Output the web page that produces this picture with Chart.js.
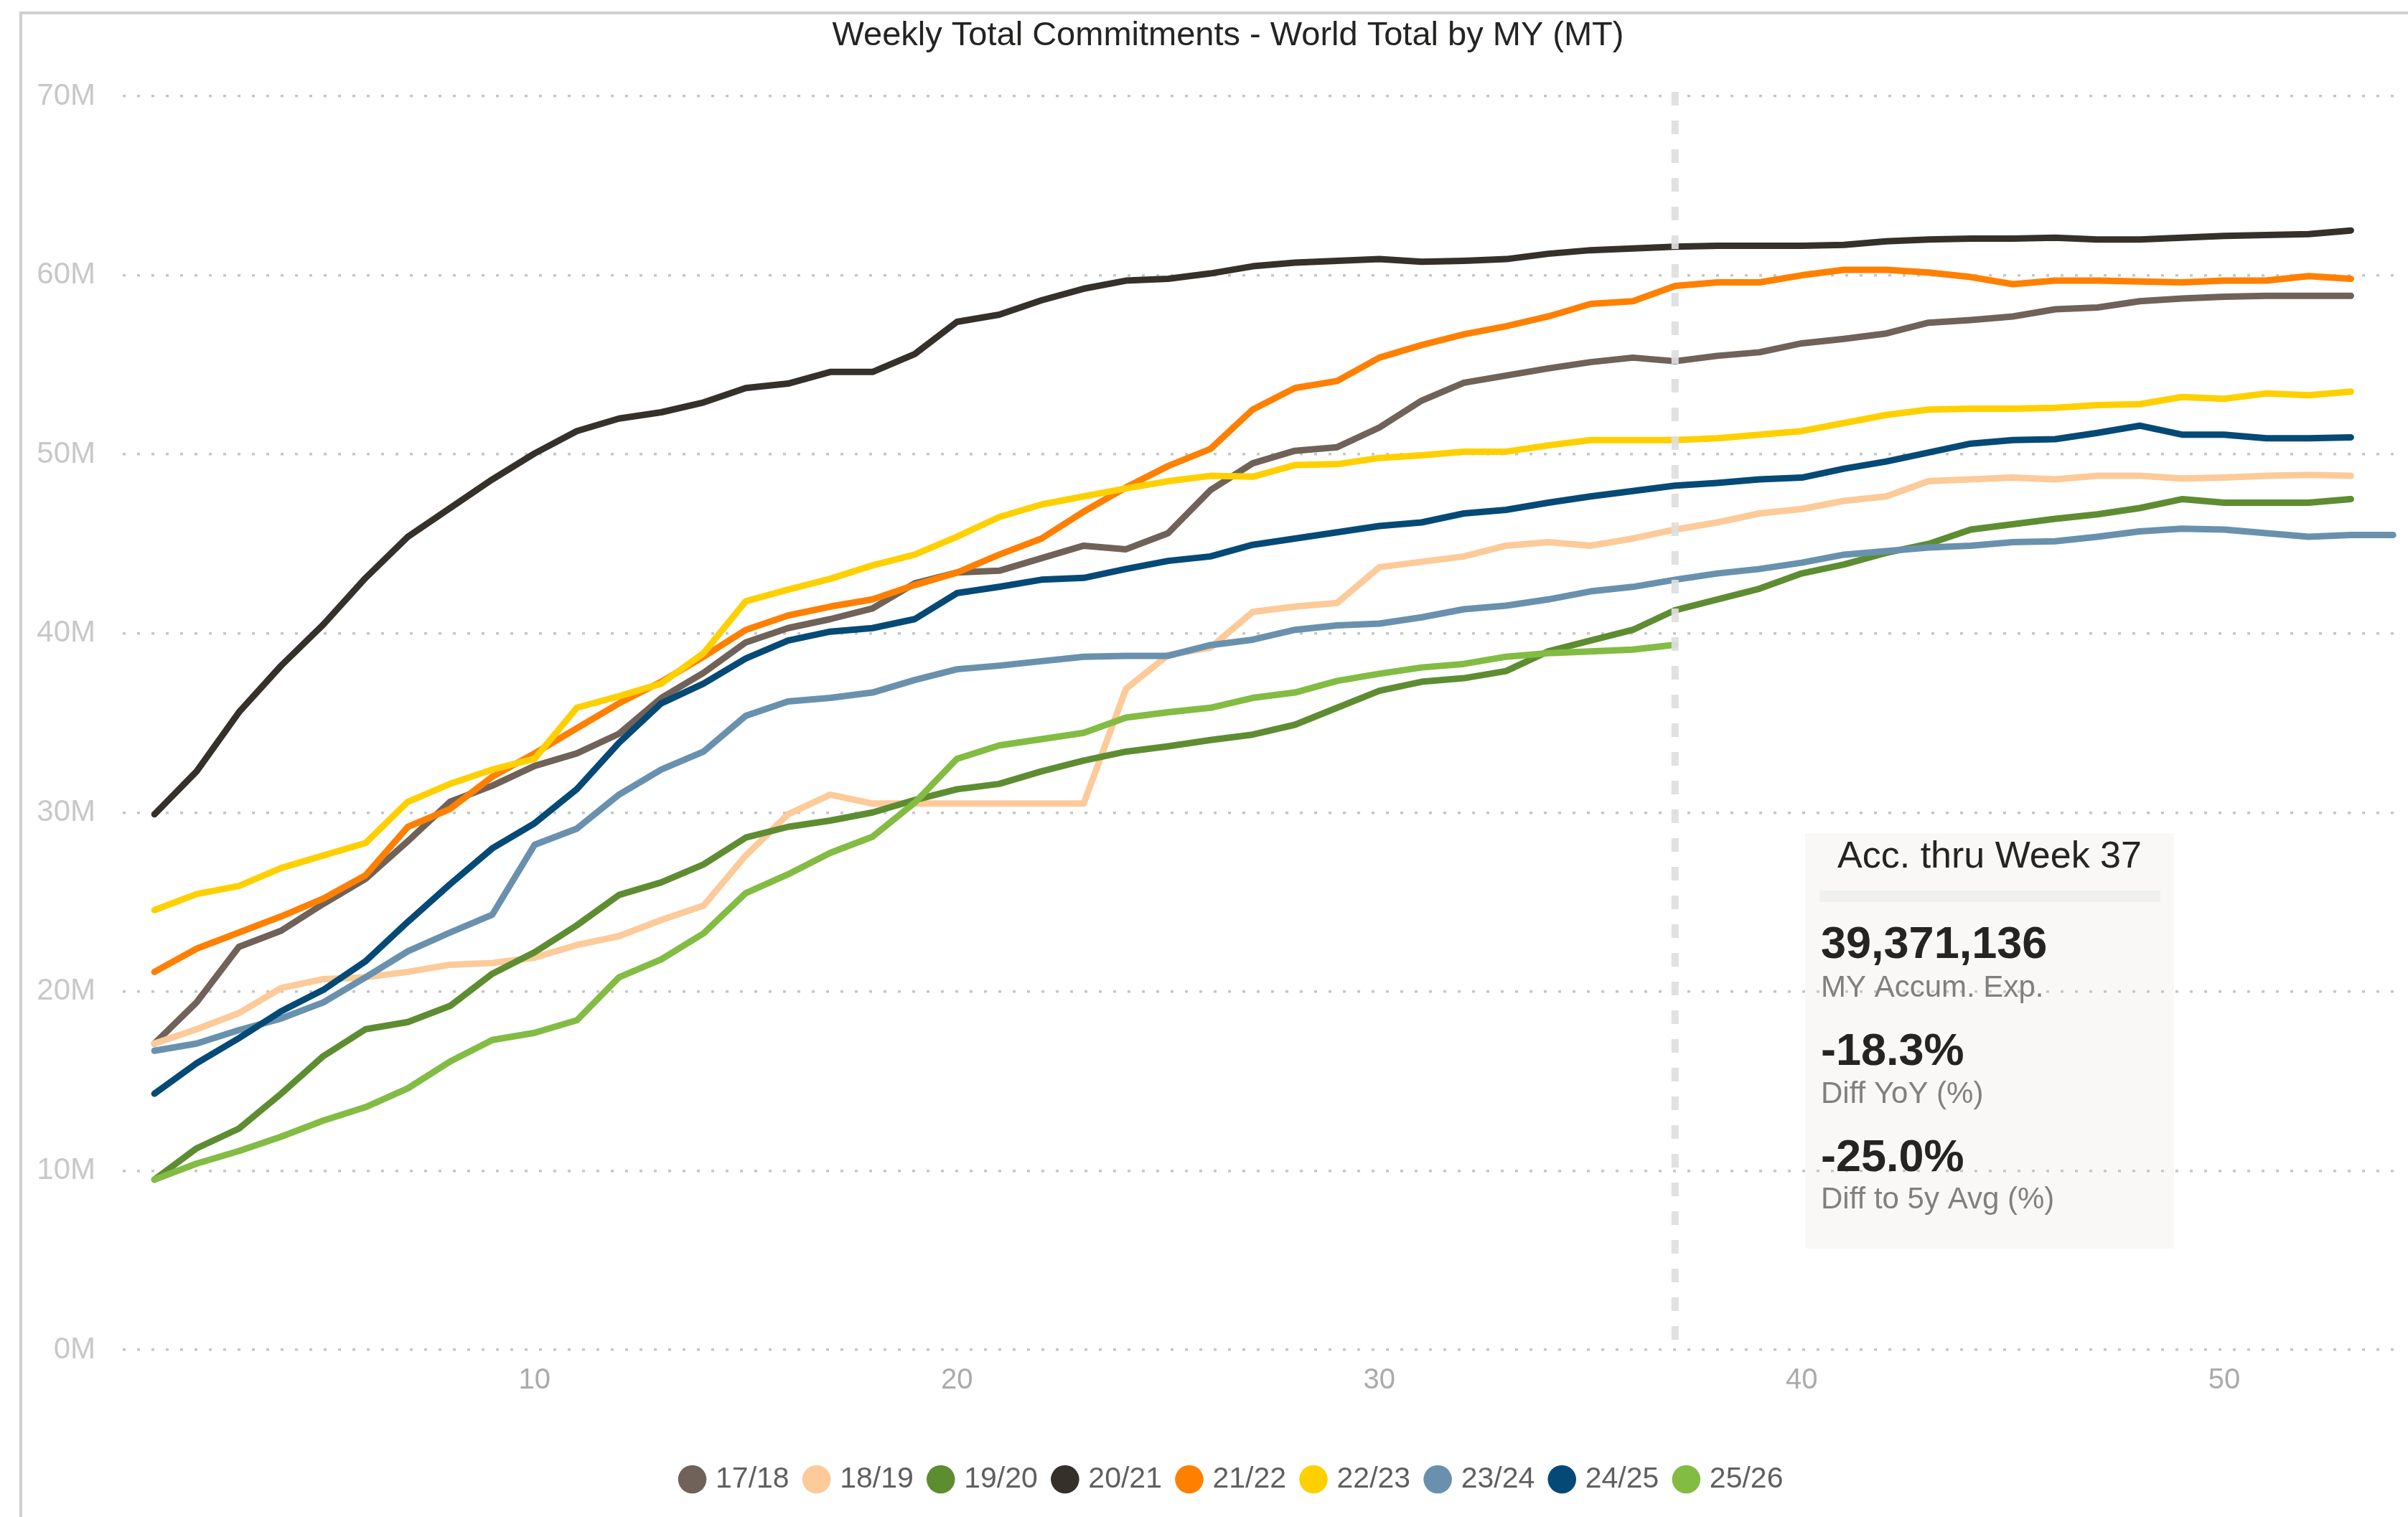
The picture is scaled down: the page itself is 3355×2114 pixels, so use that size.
<!DOCTYPE html>
<html lang="en">

<head>
    <meta charset="UTF-8">
    <title>Weekly Total Commitments</title>
    <!-- Import Chart.js -->
    <script src="https://cdn.jsdelivr.net/npm/chart.js"></script>
    <style>
        html, body { margin: 0; padding: 0; background: #ffffff; }
        #chart-wrap { width: 3355px; height: 2114px; position: relative; }
    </style>
</head>

<body>
    <div id="chart-wrap">
        <canvas id="commitments-chart"></canvas>
    </div>

    <script>
        // week numbers (x) and axis ticks
        const weeks = [1, 2, 3, 4, 5, 6, 7, 8, 9, 10, 11, 12, 13, 14, 15, 16, 17, 18, 19, 20,
            21, 22, 23, 24, 25, 26, 27, 28, 29, 30, 31, 32, 33, 34, 35, 36, 37, 38, 39, 40,
            41, 42, 43, 44, 45, 46, 47, 48, 49, 50, 51, 52, 53, 54];
        const xTicks = [10, 20, 30, 40, 50];
        const yTicks = [0, 10, 20, 30, 40, 50, 60, 70];

        // marketing years and their colours
        const seasons = ['17/18', '18/19', '19/20', '20/21', '21/22', '22/23', '23/24', '24/25', '25/26'];
        const colors = ['#706258', '#fdca99', '#5e8d31', '#36302b', '#ff8000', '#ffd000', '#6991ae', '#054a76', '#82bc42'];

        // accumulated commitments, million tonnes
        const my1718 = [17.1, 19.4, 22.5, 23.4, 24.9, 26.3, 28.4, 30.6, 31.5, 32.6,
            33.3, 34.4, 36.4, 37.8, 39.5, 40.3, 40.8, 41.4, 42.8, 43.4,
            43.5, 44.2, 44.9, 44.7, 45.6, 48.0, 49.5, 50.2, 50.4, 51.5,
            53.0, 54.0, 54.4, 54.8, 55.15, 55.4, 55.2, 55.5, 55.7, 56.2,
            56.45, 56.75, 57.35, 57.5, 57.7, 58.1, 58.2, 58.55, 58.7, 58.8,
            58.85, 58.85, 58.85];
        const my1819 = [17.1, 17.9, 18.8, 20.2, 20.7, 20.8, 21.1, 21.5, 21.6, 21.9,
            22.6, 23.1, 24.0, 24.8, 27.6, 29.9, 31.0, 30.5, 30.5, 30.5,
            30.5, 30.5, 30.5, 36.9, 38.8, 39.2, 41.2, 41.5, 41.7, 43.7,
            44.0, 44.3, 44.9, 45.1, 44.9, 45.3, 45.8, 46.2, 46.7, 46.95,
            47.4, 47.65, 48.5, 48.6, 48.7, 48.6, 48.8, 48.8, 48.65, 48.7,
            48.8, 48.85, 48.8];
        const my1920 = [9.5, 11.25, 12.35, 14.3, 16.4, 17.9, 18.3, 19.2, 21.0, 22.2,
            23.7, 25.4, 26.1, 27.1, 28.6, 29.2, 29.55, 30.0, 30.7, 31.3,
            31.6, 32.3, 32.9, 33.4, 33.7, 34.05, 34.35, 34.9, 35.85, 36.8,
            37.3, 37.5, 37.9, 39.0, 39.6, 40.2, 41.3, 41.9, 42.5, 43.35,
            43.85, 44.5, 45.0, 45.8, 46.1, 46.4, 46.65, 47.0, 47.5, 47.3,
            47.3, 47.3, 47.5];
        const my2021 = [29.9, 32.3, 35.6, 38.2, 40.5, 43.1, 45.4, 47.0, 48.6, 50.05,
            51.3, 52.0, 52.35, 52.9, 53.7, 53.95, 54.6, 54.6, 55.6, 57.4,
            57.8, 58.6, 59.25, 59.7, 59.8, 60.1, 60.5, 60.7, 60.8, 60.9,
            60.75, 60.8, 60.9, 61.2, 61.4, 61.5, 61.6, 61.65, 61.65, 61.65,
            61.7, 61.9, 62.0, 62.05, 62.05, 62.1, 62.0, 62.0, 62.1, 62.2,
            62.25, 62.3, 62.5];
        const my2122 = [21.1, 22.4, 23.3, 24.2, 25.2, 26.5, 29.2, 30.2, 32.0, 33.3,
            34.7, 36.1, 37.3, 38.7, 40.2, 41.0, 41.5, 41.9, 42.7, 43.4,
            44.4, 45.3, 46.8, 48.15, 49.35, 50.3, 52.5, 53.7, 54.1, 55.4,
            56.1, 56.7, 57.15, 57.7, 58.4, 58.55, 59.4, 59.6, 59.6, 60.0,
            60.3, 60.3, 60.15, 59.9, 59.5, 59.7, 59.7, 59.65, 59.6, 59.7,
            59.7, 59.95, 59.8];
        const my2223 = [24.55, 25.45, 25.9, 26.9, 27.6, 28.3, 30.6, 31.6, 32.4, 33.0,
            35.85, 36.5, 37.2, 38.9, 41.8, 42.45, 43.05, 43.8, 44.4, 45.4,
            46.5, 47.2, 47.65, 48.1, 48.5, 48.8, 48.75, 49.4, 49.45, 49.8,
            49.95, 50.15, 50.15, 50.5, 50.8, 50.8, 50.8, 50.9, 51.1, 51.3,
            51.75, 52.2, 52.5, 52.55, 52.55, 52.6, 52.75, 52.8, 53.2, 53.1,
            53.4, 53.3, 53.5];
        const my2324 = [16.7, 17.1, 17.85, 18.5, 19.4, 20.8, 22.25, 23.3, 24.3, 28.2,
            29.1, 31.0, 32.4, 33.4, 35.4, 36.2, 36.4, 36.7, 37.4, 38.0,
            38.2, 38.45, 38.7, 38.75, 38.75, 39.35, 39.65, 40.2, 40.45, 40.55,
            40.9, 41.35, 41.55, 41.9, 42.35, 42.6, 43.0, 43.35, 43.6, 43.95,
            44.4, 44.6, 44.8, 44.9, 45.1, 45.15, 45.4, 45.7, 45.85, 45.8,
            45.6, 45.4, 45.5, 45.5];
        const my2425 = [14.3, 16.0, 17.4, 18.9, 20.1, 21.7, 23.9, 26.0, 28.0, 29.4,
            31.3, 33.9, 36.1, 37.2, 38.6, 39.6, 40.1, 40.3, 40.8, 42.25,
            42.6, 43.0, 43.1, 43.6, 44.05, 44.3, 44.95, 45.3, 45.65, 46.0,
            46.2, 46.7, 46.9, 47.3, 47.65, 47.95, 48.25, 48.4, 48.6, 48.7,
            49.2, 49.6, 50.1, 50.6, 50.8, 50.85, 51.2, 51.6, 51.1, 51.1,
            50.9, 50.9, 50.95];
        const my2526 = [9.5, 10.4, 11.1, 11.9, 12.8, 13.55, 14.6, 16.1, 17.3, 17.7,
            18.4, 20.8, 21.8, 23.25, 25.5, 26.55, 27.75, 28.65, 30.55, 33.0,
            33.75, 34.1, 34.45, 35.3, 35.6, 35.85, 36.4, 36.7, 37.35, 37.75,
            38.1, 38.3, 38.7, 38.9, 39.0, 39.1, 39.37];
        const seriesValues = [my1718, my1819, my1920, my2021, my2122, my2223, my2324, my2425, my2526];

        // summary card
        const currentWeek = 37;
        const summaryTitle = 'Acc. thru Week 37';
        const summaryValues = ['39,371,136', '-18.3%', '-25.0%'];
        const summaryLabels = ['MY Accum. Exp.', 'Diff YoY (%)', 'Diff to 5y Avg (%)'];

        const chartTitle = 'Weekly Total Commitments - World Total by MY (MT)';
        const FONT = '"Liberation Sans", Arial, sans-serif';

        Chart.defaults.font.family = FONT;

        const decorations = {
            id: 'decorations',
            afterLayout(chart) {
                // legend sits a little right of the canvas centre
                if (chart.legend) {
                    chart.legend.left += 22;
                    chart.legend.right += 22;
                }
            },
            beforeDraw(chart) {
                const ctx = chart.ctx;
                ctx.save();
                // frame on top and left
                ctx.fillStyle = '#d0d0d0';
                ctx.fillRect(27, 16, chart.width - 27, 4);
                ctx.fillRect(27, 16, 4, chart.height - 16);
                // summary card background
                ctx.fillStyle = '#faf8f7';
                ctx.fillRect(2515, 1161, 514, 579);
                ctx.restore();
            },
            afterDatasetsDraw(chart) {
                const ctx = chart.ctx;
                const area = chart.chartArea;
                const x = chart.scales.x.getPixelForValue(currentWeek);
                ctx.save();
                // current week marker
                ctx.strokeStyle = 'rgba(222, 222, 222, 0.92)';
                ctx.lineWidth = 10;
                ctx.setLineDash([19, 21]);
                ctx.beginPath();
                ctx.moveTo(x, area.top - 6);
                ctx.lineTo(x, area.bottom - 6);
                ctx.stroke();
                ctx.setLineDash([]);

                // summary card text
                ctx.fillStyle = '#f0f0f0';
                ctx.fillRect(2535, 1241, 475, 16);
                ctx.fillStyle = '#252423';
                ctx.textAlign = 'center';
                ctx.textBaseline = 'alphabetic';
                ctx.font = '52px ' + FONT;
                ctx.fillText(summaryTitle, 2772, 1209);
                ctx.textAlign = 'left';
                const valueY = [1335, 1484, 1632];
                const labelY = [1389, 1537, 1684];
                for (let i = 0; i < summaryValues.length; i++) {
                    ctx.fillStyle = '#252423';
                    ctx.font = 'bold 63px ' + FONT;
                    ctx.fillText(summaryValues[i], 2537, valueY[i]);
                    ctx.fillStyle = '#808080';
                    ctx.font = '42px ' + FONT;
                    ctx.fillText(summaryLabels[i], 2537, labelY[i]);
                }
                ctx.restore();
            },
            afterDraw(chart) {
                const ctx = chart.ctx;
                ctx.save();
                ctx.fillStyle = '#252423';
                ctx.font = '47px ' + FONT;
                ctx.textAlign = 'center';
                ctx.textBaseline = 'alphabetic';
                ctx.fillText(chartTitle, 1711, 63);
                ctx.restore();
            }
        };

        function buildDatasets() {
            return seasons.map((season, i) => ({
                label: season,
                data: seriesValues[i].map((v, j) => ({ x: weeks[j], y: v })),
                borderColor: colors[i],
                backgroundColor: colors[i],
                borderWidth: 9,
                borderCapStyle: 'round',
                borderJoinStyle: 'round',
                pointRadius: 0,
                pointHoverRadius: 0,
                tension: 0,
                fill: false,
                // later seasons drawn on top
                order: seasons.length - i
            }));
        }

        function renderChart() {
            const ctx = document.getElementById('commitments-chart').getContext('2d');
            new Chart(ctx, {
                type: 'line',
                data: { datasets: buildDatasets() },
                plugins: [decorations],
                options: {
                    responsive: true,
                    maintainAspectRatio: false,
                    devicePixelRatio: 1,
                    animation: false,
                    events: [],
                    layout: { padding: { left: 44, right: 6, top: 134, bottom: 22 } },
                    scales: {
                        x: {
                            type: 'linear',
                            min: 0.25,
                            max: 54.25,
                            afterBuildTicks: (scale) => { scale.ticks = xTicks.map(v => ({ value: v })); },
                            afterFit: (scale) => { scale.height = 134; },
                            grid: { display: false, drawTicks: false },
                            border: { display: false },
                            ticks: {
                                autoSkip: false,
                                maxRotation: 0,
                                padding: 19,
                                color: '#ababab',
                                font: { size: 40 }
                            }
                        },
                        y: {
                            min: 0,
                            max: 70,
                            afterBuildTicks: (scale) => { scale.ticks = yTicks.map(v => ({ value: v })); },
                            afterFit: (scale) => { scale.width = 127; },
                            grid: { color: '#c6c6c6', lineWidth: 3.5, drawTicks: false },
                            border: { display: false, dash: [4, 16] },
                            ticks: {
                                padding: 38,
                                color: '#c8c8c8',
                                font: { size: 42 },
                                callback: (v) => v + 'M'
                            }
                        }
                    },
                    plugins: {
                        title: { display: false },
                        tooltip: { enabled: false },
                        legend: {
                            position: 'bottom',
                            labels: {
                                usePointStyle: true,
                                pointStyle: 'circle',
                                boxWidth: 24,
                                boxHeight: 28,
                                padding: 26,
                                color: '#5f5f5f',
                                font: { size: 41 },
                                sort: (a, b) => a.datasetIndex - b.datasetIndex,
                                generateLabels: (chart) => {
                                    const items = Chart.defaults.plugins.legend.labels.generateLabels(chart);
                                    return items.map((item) => Object.assign(item, {
                                        fillStyle: colors[item.datasetIndex],
                                        strokeStyle: colors[item.datasetIndex],
                                        lineWidth: 0
                                    }));
                                }
                            }
                        }
                    }
                }
            });
        }

        document.addEventListener('DOMContentLoaded', renderChart);
    </script>
</body>

</html>
